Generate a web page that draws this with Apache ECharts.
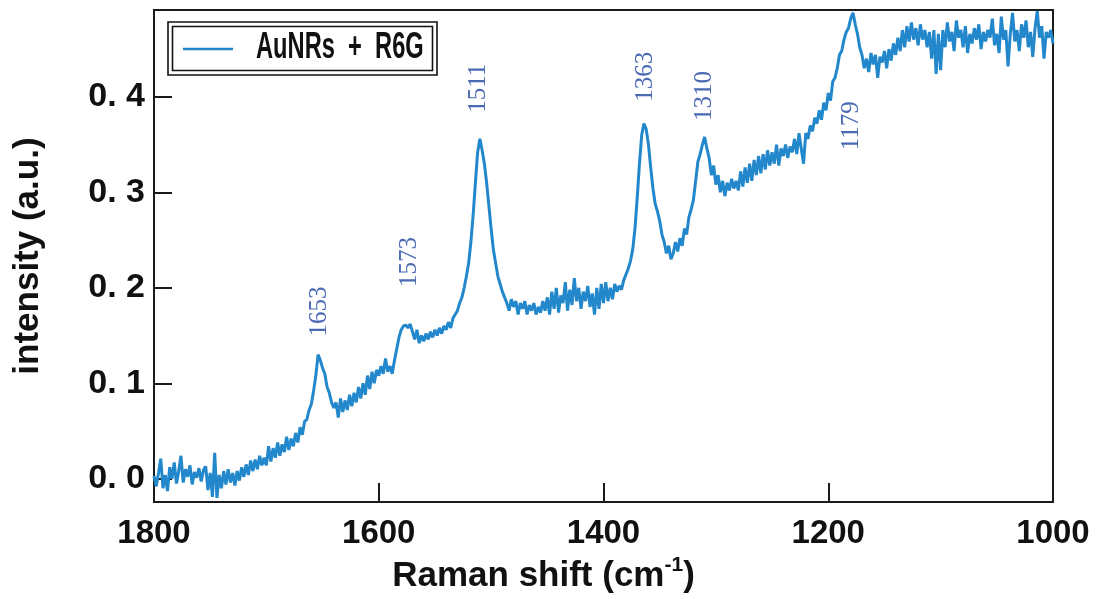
<!DOCTYPE html>
<html>
<head>
<meta charset="utf-8">
<script src="https://cdn.jsdelivr.net/npm/echarts@6/dist/echarts.min.js"></script>
<style>
  html, body { margin: 0; padding: 0; background: #fff; }
  #chart { width: 1097px; height: 599px; }
</style>
</head>
<body>
<div id="chart"></div>
<script>
// Raman spectrum sampled every 2 cm-1, from 1800 down to 1000 cm-1
const SHIFT_START = 1800;
const SHIFT_STEP = -2;
const intensity = [
  // 1800 - 1782
  0.003, -0.008, 0.006, 0.021, -0.010, 0.004, -0.013, 0.012, 0.000, 0.017,
  // 1780 - 1762
  -0.005, 0.008, 0.024, -0.004, 0.010, 0.002, 0.014, -0.006, 0.007, 0.001,
  // 1760 - 1742
  0.011, -0.003, 0.009, 0.013, -0.012, 0.006, -0.019, 0.027, -0.020, 0.004,
  // 1740 - 1722
  -0.010, 0.008, -0.006, 0.010, -0.004, 0.006, -0.007, 0.008, -0.002, 0.012,
  // 1720 - 1702
  0.002, 0.015, 0.004, 0.019, 0.008, 0.020, 0.010, 0.024, 0.014, 0.022,
  // 1700 - 1682
  0.014, 0.034, 0.018, 0.032, 0.022, 0.038, 0.024, 0.036, 0.028, 0.044,
  // 1680 - 1662
  0.030, 0.042, 0.034, 0.048, 0.038, 0.054, 0.046, 0.060, 0.062, 0.072,
  // 1660 - 1642
  0.078, 0.092, 0.108, 0.130, 0.124, 0.116, 0.110, 0.096, 0.090, 0.080,
  // 1640 - 1622
  0.074, 0.080, 0.064, 0.084, 0.070, 0.082, 0.072, 0.088, 0.076, 0.090,
  // 1620 - 1602
  0.080, 0.096, 0.084, 0.100, 0.088, 0.108, 0.094, 0.112, 0.100, 0.114,
  // 1600 - 1582
  0.108, 0.118, 0.110, 0.126, 0.112, 0.118, 0.110, 0.124, 0.136, 0.148,
  // 1580 - 1562
  0.156, 0.160, 0.161, 0.158, 0.162, 0.154, 0.146, 0.156, 0.142, 0.150,
  // 1560 - 1542
  0.144, 0.152, 0.146, 0.154, 0.148, 0.156, 0.150, 0.158, 0.152, 0.160,
  // 1540 - 1522
  0.156, 0.164, 0.158, 0.168, 0.172, 0.176, 0.184, 0.190, 0.200, 0.212,
  // 1520 - 1502
  0.226, 0.248, 0.276, 0.310, 0.342, 0.356, 0.344, 0.330, 0.310, 0.286,
  // 1500 - 1482
  0.262, 0.240, 0.226, 0.212, 0.204, 0.196, 0.190, 0.184, 0.176, 0.188,
  // 1480 - 1462
  0.180, 0.186, 0.172, 0.184, 0.178, 0.186, 0.172, 0.182, 0.176, 0.184,
  // 1460 - 1442
  0.172, 0.180, 0.174, 0.186, 0.176, 0.190, 0.172, 0.196, 0.178, 0.200,
  // 1440 - 1422
  0.174, 0.192, 0.184, 0.206, 0.176, 0.198, 0.182, 0.210, 0.186, 0.200,
  // 1420 - 1402
  0.178, 0.196, 0.186, 0.202, 0.180, 0.194, 0.172, 0.200, 0.178, 0.204,
  // 1400 - 1382
  0.184, 0.206, 0.186, 0.200, 0.188, 0.204, 0.196, 0.202, 0.198, 0.208,
  // 1380 - 1362
  0.214, 0.220, 0.228, 0.240, 0.262, 0.294, 0.330, 0.360, 0.372, 0.366,
  // 1360 - 1342
  0.350, 0.326, 0.304, 0.288, 0.280, 0.270, 0.256, 0.248, 0.236, 0.244,
  // 1340 - 1322
  0.230, 0.236, 0.248, 0.238, 0.252, 0.244, 0.262, 0.256, 0.274, 0.282,
  // 1320 - 1302
  0.292, 0.312, 0.332, 0.340, 0.350, 0.358, 0.346, 0.336, 0.318, 0.328,
  // 1300 - 1282
  0.308, 0.318, 0.300, 0.312, 0.296, 0.310, 0.302, 0.314, 0.304, 0.312,
  // 1280 - 1262
  0.302, 0.322, 0.306, 0.326, 0.310, 0.330, 0.312, 0.334, 0.318, 0.338,
  // 1260 - 1242
  0.320, 0.340, 0.324, 0.344, 0.328, 0.342, 0.330, 0.350, 0.328, 0.346,
  // 1240 - 1222
  0.338, 0.350, 0.336, 0.348, 0.342, 0.356, 0.340, 0.362, 0.346, 0.330,
  // 1220 - 1202
  0.362, 0.356, 0.370, 0.364, 0.378, 0.372, 0.386, 0.376, 0.394, 0.386,
  // 1200 - 1182
  0.404, 0.396, 0.416, 0.420, 0.430, 0.444, 0.448, 0.460, 0.468, 0.472,
  // 1180 - 1162
  0.482, 0.488, 0.476, 0.466, 0.452, 0.444, 0.430, 0.440, 0.426, 0.446,
  // 1160 - 1142
  0.434, 0.444, 0.420, 0.442, 0.436, 0.448, 0.430, 0.450, 0.438, 0.456,
  // 1140 - 1122
  0.444, 0.462, 0.448, 0.470, 0.452, 0.474, 0.458, 0.478, 0.460, 0.472,
  // 1120 - 1102
  0.454, 0.476, 0.460, 0.470, 0.452, 0.468, 0.440, 0.470, 0.424, 0.466,
  // 1100 - 1082
  0.428, 0.470, 0.452, 0.478, 0.458, 0.468, 0.448, 0.480, 0.462, 0.470,
  // 1080 - 1062
  0.452, 0.474, 0.446, 0.466, 0.456, 0.472, 0.460, 0.476, 0.450, 0.468,
  // 1060 - 1042
  0.458, 0.470, 0.462, 0.482, 0.454, 0.466, 0.446, 0.484, 0.460, 0.470,
  // 1040 - 1022
  0.432, 0.466, 0.488, 0.458, 0.470, 0.448, 0.476, 0.462, 0.480, 0.452,
  // 1020 - 1002
  0.468, 0.442, 0.472, 0.490, 0.462, 0.474, 0.440, 0.468, 0.462, 0.470,
  // 1000
  0.456
];

// Assigned band positions (cm-1)
const peakShifts = [1653, 1573, 1511, 1363, 1310, 1179];

const seriesName = 'AuNRs + R6G';

// ---- presentation ----
const LINE_COLOR = '#2388cb';
const PEAK_COLOR = '#4a6ab4';
const AXIS_COLOR = '#1a1a1a';
const SANS = '"Liberation Sans", Arial, sans-serif';
const SERIF = '"Liberation Serif", "Times New Roman", serif';

// Height (intensity units) at which each band label is centred, with a small pixel nudge
const peakLabelLevel = [0.172, 0.224, 0.408, 0.421, 0.405, 0.374];
const peakLabelNudge = [3, 3, 1, 0, -4, -4];

const spectrum = intensity.map((v, i) => [SHIFT_START + i * SHIFT_STEP, v]);

const chart = echarts.init(document.getElementById('chart'), null, { renderer: 'canvas' });

const isTenth = v => Math.abs(v * 10 - Math.round(v * 10)) < 1e-6;

chart.setOption({
  animation: false,
  backgroundColor: '#fff',
  grid: {
    left: 154, right: 44, top: 10, bottom: 95,
    show: true, borderColor: AXIS_COLOR, borderWidth: 2, backgroundColor: 'transparent'
  },
  xAxis: {
    type: 'value',
    inverse: true,
    min: 1000, max: 1800, interval: 200,
    axisLine: { show: true, onZero: false, lineStyle: { color: AXIS_COLOR, width: 2 } },
    axisTick: { show: true, inside: true, length: 19, lineStyle: { color: AXIS_COLOR, width: 2 } },
    splitLine: { show: false },
    axisLabel: {
      margin: 15,
      color: '#111',
      fontFamily: SANS, fontWeight: 'bold', fontSize: 33,
      formatter: v => String(v)
    },
    name: 'Raman shift (cm{sup|-1})',
    nameLocation: 'middle',
    nameGap: 50,
    nameTextStyle: {
      color: '#111', fontFamily: SANS, fontWeight: 'bold', fontSize: 35,
      padding: [0, 120, 0, 0],
      rich: {
        sup: { fontFamily: SANS, fontWeight: 'bold', fontSize: 21, color: '#111', padding: [0, 0, 22, 0] }
      }
    }
  },
  yAxis: {
    type: 'value',
    min: -0.0245, max: 0.491,
    splitNumber: 5,
    axisLine: { show: true, onZero: false, lineStyle: { color: AXIS_COLOR, width: 2 } },
    axisTick: { show: true, inside: true, length: 18, lineStyle: { color: AXIS_COLOR, width: 2 } },
    splitLine: { show: false },
    axisLabel: {
      margin: 9,
      color: '#111',
      fontFamily: SANS, fontWeight: 'bold', fontSize: 34,
      formatter: v => isTenth(v) ? v.toFixed(1).replace('.', '. ') : ''
    },
    name: 'intensity (a.u.)',
    nameLocation: 'middle',
    nameGap: 108,
    nameTextStyle: { color: '#111', fontFamily: SANS, fontWeight: 'bold', fontSize: 35 }
  },
  series: [{
    name: seriesName,
    type: 'line',
    data: spectrum,
    showSymbol: false,
    symbol: 'none',
    lineStyle: { color: LINE_COLOR, width: 3 },
    itemStyle: { color: LINE_COLOR },
    z: 3,
    markPoint: {
      symbol: 'circle',
      symbolSize: 0,
      silent: true,
      label: {
        show: true,
        position: 'inside',
        rotate: 90,
        color: PEAK_COLOR,
        fontFamily: SERIF,
        fontSize: 25,
        formatter: p => p.name
      },
      data: peakShifts.map((s, i) => ({
        name: String(s),
        coord: [s, peakLabelLevel[i]],
        label: { offset: [peakLabelNudge[i], 0] }
      }))
    }
  }],
  graphic: [
    {
      type: 'group',
      z: 100,
      children: [
        { type: 'rect', shape: { x: 168, y: 22, width: 269, height: 53 },
          style: { fill: '#fff', stroke: '#111', lineWidth: 1.6 } },
        { type: 'rect', shape: { x: 172.5, y: 26.5, width: 260, height: 44 },
          style: { fill: 'none', stroke: '#111', lineWidth: 1.6 } },
        { type: 'line', shape: { x1: 183, y1: 49, x2: 233, y2: 49 },
          style: { stroke: LINE_COLOR, lineWidth: 2.6 } },
        { type: 'text', x: 256, y: 48, scaleX: 0.64,
          style: {
            text: seriesName.replace(/ \+ /, '  +  '),
            font: 'bold 37px ' + SANS,
            fill: '#111',
            verticalAlign: 'middle',
            align: 'left'
          } }
      ]
    }
  ]
});
</script>
</body>
</html>
